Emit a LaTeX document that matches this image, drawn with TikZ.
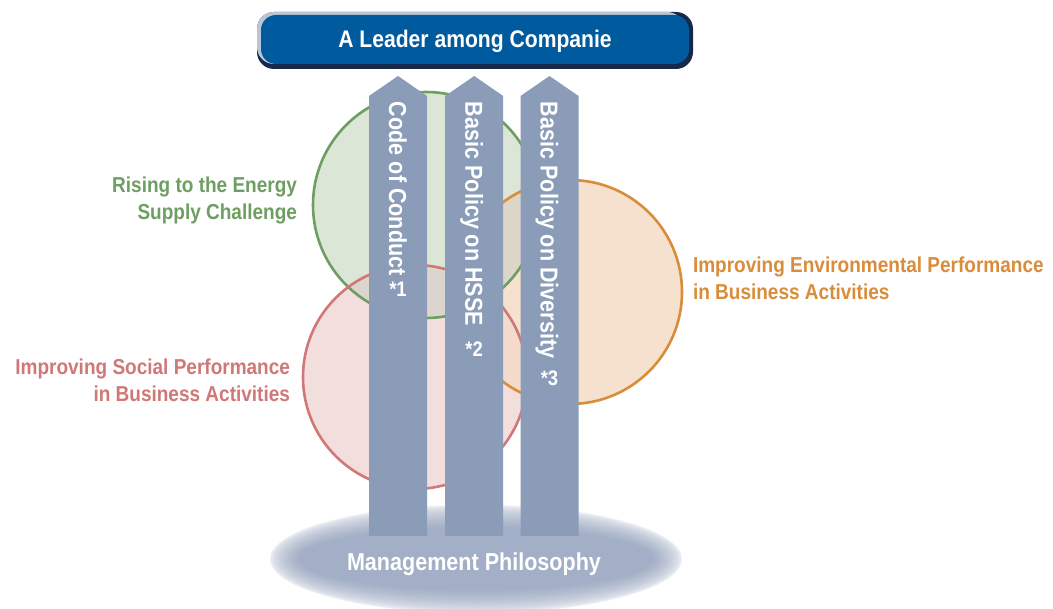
\documentclass[tikz,border=0pt]{standalone}
\usepackage{fontspec}
\newfontfamily\cond{Liberation Sans}[FakeStretch=0.88]
\definecolor{arrowc}{HTML}{8A9CB8}
\definecolor{glowc}{HTML}{A3AFC6}
\definecolor{bannerblue}{HTML}{005A9E}
\definecolor{bannernavy}{HTML}{17294A}
\definecolor{bannersilver}{HTML}{BCC5D2}
\definecolor{gfill}{HTML}{DCE6D7}
\definecolor{rfill}{HTML}{F2DEDC}
\definecolor{ofill}{HTML}{F5E1CD}
\definecolor{grfill}{HTML}{DCD4CF}
\definecolor{gofill}{HTML}{DDD6C8}
\definecolor{rofill}{HTML}{F4DACB}
\definecolor{grofill}{HTML}{D8CDC2}
\definecolor{gline}{HTML}{6F9E62}
\definecolor{rline}{HTML}{D07878}
\definecolor{oline}{HTML}{D98C3A}
\tikzset{
  bigtext/.style={font=\cond\bfseries\fontsize{24.5}{28}\selectfont, text=white},
  rottext/.style={bigtext, rotate=-90, anchor=base west},
  notetext/.style={font=\cond\bfseries\fontsize{21}{24}\selectfont, text=white, anchor=base},
  sidetext/.style={font=\cond\bfseries\fontsize{21.6}{24}\selectfont},
  pillar/.style={fill=arrowc},
  ring/.style={line width=2.6pt}
}
\begin{document}
\begin{tikzpicture}[x=1pt,y=-1pt, every node/.style={inner sep=0pt, outer sep=0pt}]
\useasboundingbox (0,0) rectangle (1053,609);

% glow under the pillars
\foreach \i in {0,...,30}{
  \pgfmathsetmacro\t{\i/30}
  \pgfmathsetmacro\rx{207-31*\t}
  \pgfmathsetmacro\ry{55-24*\t}
  \pgfmathsetmacro\p{100*sqrt(\t)}
  \fill[glowc!\p!white] (476,559) ellipse [x radius=\rx, y radius=\ry];
}

% circles: fills
\fill[gfill] (426,205) circle [radius=113];
\fill[rfill] (415,377) circle [radius=112];
\fill[ofill] (570,292) circle [radius=112];
\begin{scope}
  \clip (426,205) circle [radius=113];
  \fill[grfill] (415,377) circle [radius=112];
  \fill[gofill] (570,292) circle [radius=112];
\end{scope}
\begin{scope}
  \clip (415,377) circle [radius=112];
  \fill[rofill] (570,292) circle [radius=112];
  \clip (426,205) circle [radius=113];
  \fill[grofill] (570,292) circle [radius=112];
\end{scope}
% circles: outlines
\draw[ring, gline] (426,205) circle [radius=113];
\draw[ring, rline] (415,377) circle [radius=112];
\draw[ring, oline] (570,292) circle [radius=112];

% banner
\fill[bannernavy] (257,12) [rounded corners=17pt] rectangle (693,69);
\fill[bannersilver] (257,12) [rounded corners=17pt] rectangle (684,64);
\node[fill=bannerblue, rounded corners=15pt, minimum width=428pt, minimum height=49pt,
      bigtext, font=\cond\bfseries\fontsize{24}{28}\selectfont,
      text height=17pt, text depth=0pt] (banner) at (475,39.5) {A Leader among Companie};

% pillars
\foreach \cx in {398,474.2,549.5}{
  \fill[pillar] (\cx-29,536) -- (\cx-29,96) -- (\cx,76) -- (\cx+29,96) -- (\cx+29,536) -- cycle;
}

% pillar texts
\node[rottext] (p1) at (398-8.8,102) {Code of Conduct};
\node[rottext] (p2) at (474.2-8.8,102) {Basic Policy on HSSE};
\node[rottext] (p3) at (549.5-8.8,102) {Basic Policy on Diversity};
\node[notetext] (n1) at (398,297) {*1};
\node[notetext] (n2) at (474.2,357) {*2};
\node[notetext] (n3) at (549.5,386) {*3};

% management philosophy
\node[bigtext, anchor=base] (mp) at (474,570) {Management Philosophy};

% side labels
\node[sidetext, text=gline, anchor=base east] (g1) at (297,193) {Rising to the Energy};
\node[sidetext, text=gline, anchor=base east] (g2) at (297,220) {Supply Challenge};
\node[sidetext, text=rline, anchor=base east] (r1) at (290,375) {Improving Social Performance};
\node[sidetext, text=rline, anchor=base east] (r2) at (290,402) {in Business Activities};
\node[sidetext, text=oline, anchor=base west] (o1) at (693,273) {Improving Environmental Performance};
\node[sidetext, text=oline, anchor=base west] (o2) at (693,300) {in Business Activities};
\end{tikzpicture}
\end{document}
